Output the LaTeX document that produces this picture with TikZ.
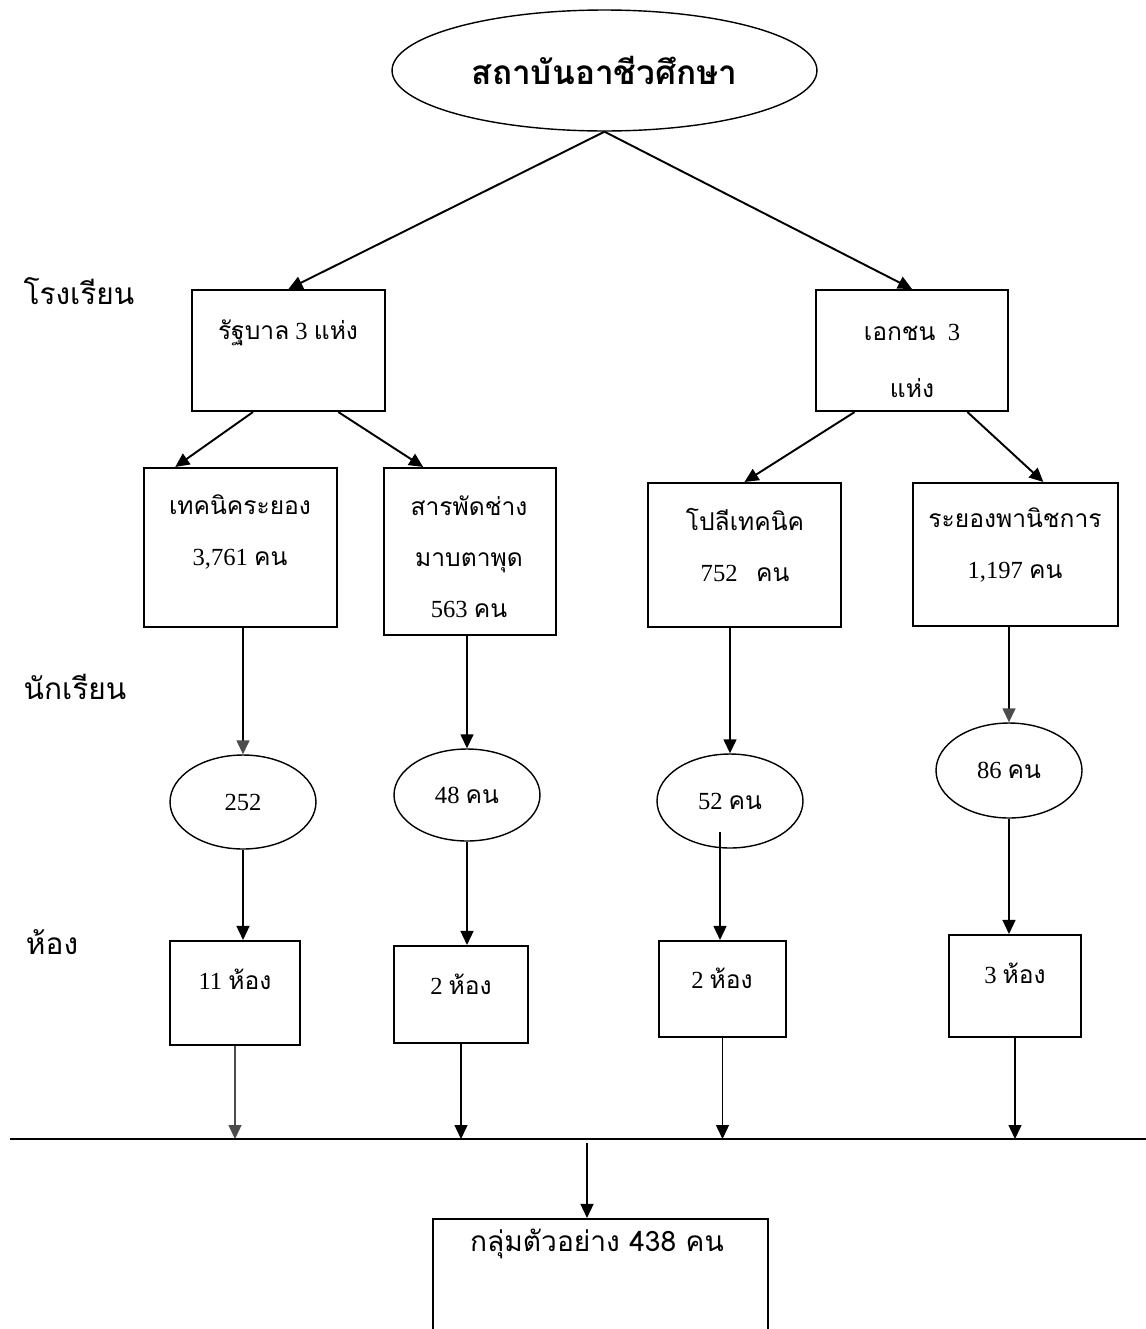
\documentclass[tikz,border=0pt]{standalone}
\usepackage{fontspec}
\setmainfont{Liberation Serif}
\newfontfamily\thaifont[Script=Thai]{Loma}
\newcommand{\thw}[1]{{\thaifont #1}}
\usetikzlibrary{shapes.geometric,arrows.meta,calc}

\tikzset{
  box/.style={draw, rectangle, line width=1.2pt, inner sep=0pt},
  oval/.style={draw, ellipse, line width=0.8pt, inner sep=0pt,
    font=\fontsize{14}{16}\selectfont},
  txt/.style={align=center, inner sep=0pt, font=\fontsize{14}{29}\selectfont},
  side/.style={inner sep=0pt, font=\fontsize{17}{20}\selectfont\thaifont},
  link/.style={->, line width=1.1pt},
  drop/.style={->, line width=0.8pt},
  greytip/.style={-{Triangle[length=0.28cm,width=0.26cm,color=black!70]}},
}

\begin{document}
\begin{tikzpicture}[x=0.02cm, y=-0.02cm, >={Triangle[length=0.28cm,width=0.26cm]}]
  \useasboundingbox (0,0) rectangle (1146,1329);
  \clip (0,0) rectangle (1146,1329);

  % top
  \node[draw, ellipse, line width=0.8pt, minimum width=8.5cm, minimum height=2.42cm,
    font=\fontsize{19}{22}\selectfont\thaifont\bfseries] (inst) at (604.5,70.5) {สถาบันอาชีวศึกษา};

  % side labels
  \node[side] (lschool) at (79,291) {โรงเรียน};
  \node[side] (lstudent) at (75,687) {นักเรียน};
  \node[side] (lroom) at (52,942) {ห้อง};

  % schools
  \node[box, minimum width=3.86cm, minimum height=2.42cm] (gov) at (288.5,350.5) {};
  \node[txt] (govtxt) at (288,333) {\thw{รัฐบาล} 3 \thw{แห่ง}};
  \node[box, minimum width=3.84cm, minimum height=2.42cm] (priv) at (912,350.5) {};
  \node[txt] (privtxt) at (912,361) {\thw{เอกชน}\ \ 3\\[3pt]\thw{แห่ง}};

  \node[box, minimum width=3.86cm, minimum height=3.18cm] (tech) at (240.5,547.5) {};
  \node[txt] (techtxt) at (240,532) {\thw{เทคนิคระยอง}\\3,761 \thw{คน}};
  \node[box, minimum width=3.44cm, minimum height=3.34cm] (sar) at (470,551.5) {};
  \node[txt] (sartxt) at (469,557) {\thw{สารพัดช่าง}\\\thw{มาบตาพุด}\\563 \thw{คน}};
  \node[box, minimum width=3.86cm, minimum height=2.88cm] (poly) at (744.5,555) {};
  \node[txt] (polytxt) at (745,545) {\thw{โปลีเทคนิค}\\752\ \ \ \thw{คน}};
  \node[box, minimum width=4.10cm, minimum height=2.86cm] (ryp) at (1015.5,554.5) {};
  \node[txt] (ryptxt) at (1015,545) {\thw{ระยองพานิชการ}\\1,197 \thw{คน}};

  % students
  \node[oval, minimum width=2.92cm, minimum height=1.88cm] (e1) at (243,802) {252};
  \node[oval, minimum width=2.92cm, minimum height=1.84cm] (e2) at (467,795) {48 \thw{คน}};
  \node[oval, minimum width=2.92cm, minimum height=1.88cm] (e3) at (730,801) {52 \thw{คน}};
  \node[oval, minimum width=2.92cm, minimum height=1.90cm] (e4) at (1009,770.5) {86 \thw{คน}};
  \coordinate (e3in) at ($(e3.center)+(-10,31)$);

  % rooms
  \node[box, minimum width=2.60cm, minimum height=2.08cm] (r1) at (235,993) {};
  \node[txt] (r1txt) at (235,979) {11 \thw{ห้อง}};
  \node[box, minimum width=2.68cm, minimum height=1.94cm] (r2) at (461,994.5) {};
  \node[txt] (r2txt) at (461,984) {2 \thw{ห้อง}};
  \node[box, minimum width=2.54cm, minimum height=1.92cm] (r3) at (722.5,989) {};
  \node[txt] (r3txt) at (722,978) {2 \thw{ห้อง}};
  \node[box, minimum width=2.64cm, minimum height=2.04cm] (r4) at (1015,986) {};
  \node[txt] (r4txt) at (1015,973) {3 \thw{ห้อง}};

  % sample
  \coordinate (hl) at (10,1139);
  \coordinate (hr) at (1146,1139);
  \coordinate (hub) at (587,1143);
  \node[box, minimum width=6.70cm, minimum height=3.24cm] (sample) at (600.5,1300) {};
  \node[inner sep=0pt, font=\fontsize{16}{19}\selectfont\thaifont] (sampletxt) at (597,1244)
    {กลุ่มตัวอย่าง 438 คน};

  % arrows
  \draw[link] (inst.south) -- (gov.north);
  \draw[link] (inst.south) -- (priv.north);
  \draw[link] (gov.240) -- (tech.129);
  \draw[link] (gov.-51) -- (sar.119);
  \draw[link] (priv.227) -- (poly.north);
  \draw[link] (priv.-48) -- (ryp.69);

  \draw[drop, greytip] (tech.south -| e1.north) -- (e1.north);
  \draw[drop] (sar.south -| e2.north) -- (e2.north);
  \draw[drop] (poly.south -| e3.north) -- (e3.north);
  \draw[drop, greytip] (ryp.south -| e4.north) -- (e4.north);

  \draw[drop] (e1.south) -- (e1.south |- r1.north);
  \draw[drop] (e2.south) -- (e2.south |- r2.north);
  \draw[drop] (e3in) -- (e3in |- r3.north);
  \draw[drop] (e4.south) -- (e4.south |- r4.north);

  \draw[drop, black!70, greytip] (r1.south) -- (r1.south |- hl);
  \draw[drop] (r2.south) -- (r2.south |- hl);
  \draw[drop] (r3.south) -- (r3.south |- hl);
  \draw[drop] (r4.south) -- (r4.south |- hl);

  \draw[line width=1.1pt] (hl) -- (hr);
  \draw[drop] (hub) -- (hub |- sample.north);
\end{tikzpicture}
\end{document}
